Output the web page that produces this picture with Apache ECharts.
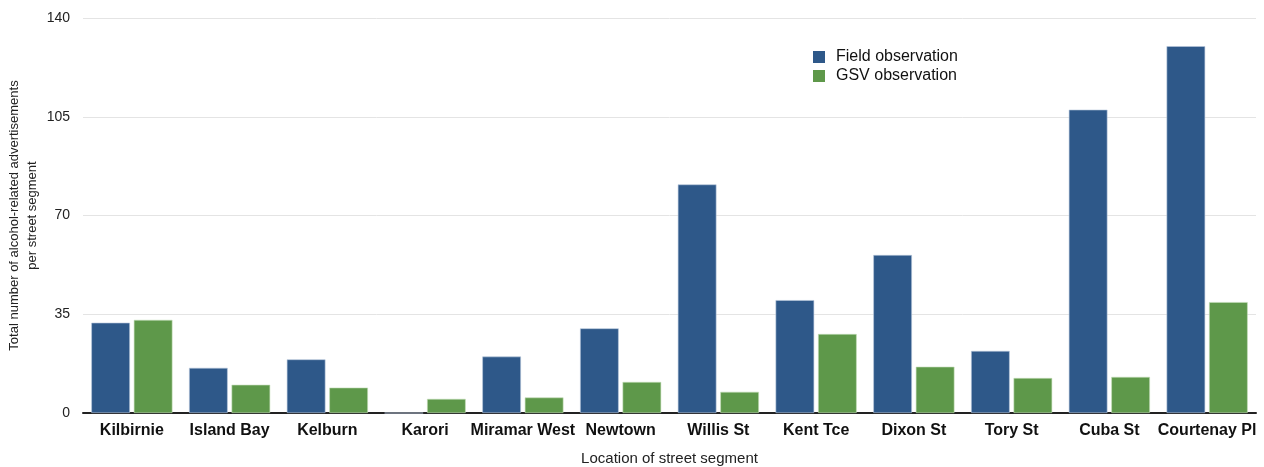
<!DOCTYPE html>
<html>
<head>
<meta charset="utf-8">
<script src="https://cdn.jsdelivr.net/npm/echarts@6/dist/echarts.min.js"></script>
<style>
  html, body { margin: 0; padding: 0; background: #fff; }
  #chartBar { width: 1264px; height: 467px; }
</style>
</head>
<body>
<div id="chartBar"></div>
<script>
  // street segments
  var locations = ['Kilbirnie', 'Island Bay', 'Kelburn', 'Karori', 'Miramar West', 'Newtown',
    'Willis St', 'Kent Tce', 'Dixon St', 'Tory St', 'Cuba St', 'Courtenay Pl']
  var fieldObs = [32, 16, 19, 0, 20, 30, 81, 40, 56, 22, 107.5, 130]
  var gsvObs = [33, 10, 9, 5, 5.5, 11, 7.5, 28, 16.4, 12.4, 12.8, 39.3]
  var yTicks = [0, 35, 70, 105, 140]

  var font = 'Liberation Sans, Arial, Helvetica, sans-serif'
  var myChart = echarts.init(document.getElementById('chartBar'))
  myChart.setOption({
    animation: false,
    textStyle: { fontFamily: font },
    legend: {
      orient: 'vertical',
      left: 808,
      top: 44,
      itemWidth: 12,
      itemHeight: 12,
      itemGap: 3,
      icon: 'rect',
      itemStyle: { borderWidth: 0 },
      textStyle: { fontSize: 16, color: '#111', fontFamily: font, padding: [0, 0, 0, 6] },
      data: ['Field observation', 'GSV observation']
    },
    grid: {
      left: 83,
      right: 8,
      top: 18,
      bottom: 54,
      containLabel: false,
      outerBoundsMode: 'none'
    },
    xAxis: {
      type: 'category',
      data: locations,
      name: 'Location of street segment',
      nameLocation: 'middle',
      nameGap: 38,
      nameMoveOverlap: false,
      nameTextStyle: { fontSize: 15, color: '#222' },
      axisLine: { lineStyle: { color: '#222', width: 2 } },
      axisTick: { show: false },
      axisLabel: { interval: 0, fontSize: 16, fontWeight: 'bold', color: '#111', margin: 10 }
    },
    yAxis: {
      type: 'value',
      min: yTicks[0],
      max: yTicks[yTicks.length - 1],
      interval: 35,
      name: 'Total number of alcohol-related advertisements\nper street segment',
      nameLocation: 'middle',
      nameGap: 42,
      nameMoveOverlap: false,
      nameTextStyle: { fontSize: 13, color: '#222', lineHeight: 18 },
      axisLine: { show: false },
      axisTick: { show: false },
      axisLabel: { fontSize: 14, color: '#222', margin: 13 },
      splitLine: { lineStyle: { color: '#e4e4e4', width: 1 } }
    },
    series: [
      {
        name: 'Field observation',
        type: 'bar',
        barGap: '10%',
        barCategoryGap: '17%',
        itemStyle: { color: '#2e5889', borderColor: '#b9c8dc', borderWidth: 0.6 },
        data: fieldObs
      },
      {
        name: 'GSV observation',
        type: 'bar',
        itemStyle: { color: '#5e984a', borderColor: '#c5ddb9', borderWidth: 0.6 },
        data: gsvObs
      }
    ]
  })
</script>
</body>
</html>
